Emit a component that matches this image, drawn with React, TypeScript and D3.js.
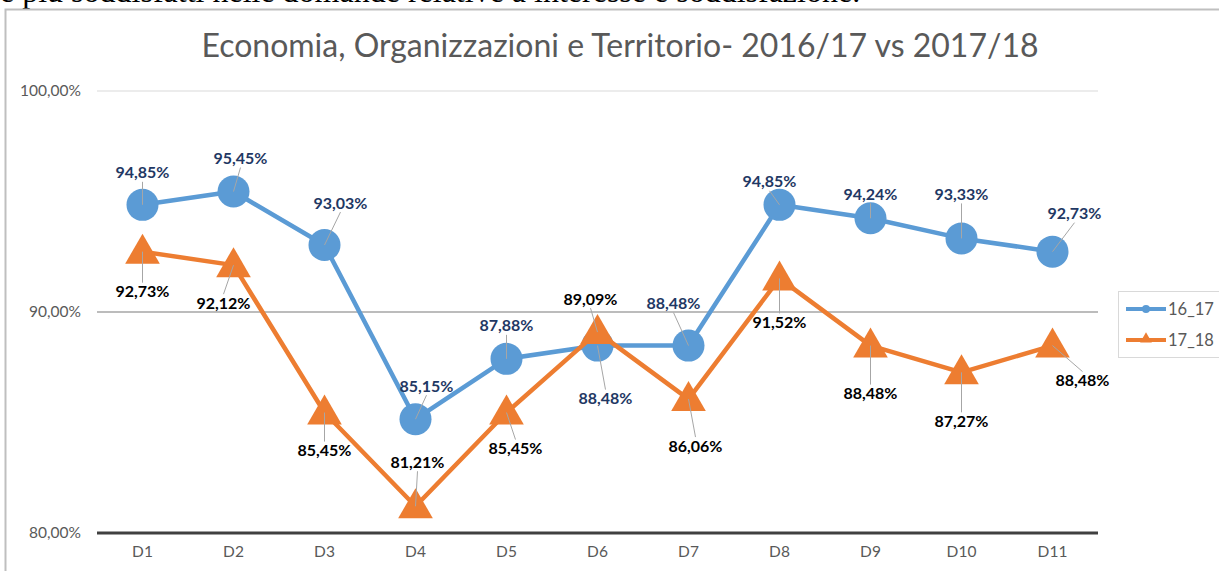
import * as d3 from 'd3';

const categories = ['D1', 'D2', 'D3', 'D4', 'D5', 'D6', 'D7', 'D8', 'D9', 'D10', 'D11'];
const series1617 = [94.85, 95.45, 93.03, 85.15, 87.88, 88.48, 88.48, 94.85, 94.24, 93.33, 92.73];
const series1718 = [92.73, 92.12, 85.45, 81.21, 85.45, 89.09, 86.06, 91.52, 88.48, 87.27, 88.48];
const yTicks = [80, 90, 100];

// label offsets (px) from each point, as Excel placed them
const labelOffsets1617 = [
  [0, -32], [7, -33], [16, -42], [11, -33], [0, -33], [8, 53],
  [-15, -42], [-10, -23], [0, -24], [0, -44], [22, -38],
];
const labelOffsets1718 = [
  [0, 40], [-10, 38], [0, 38], [2, -44], [9, 36], [-7, -33],
  [7, 47], [0, 44], [0, 48], [0, 49], [30, 35],
];

const W = 1219;
const H = 571;
const FONT = 'Lato, "Open Sans", sans-serif';
const BLUE = '#5b9bd5';
const ORANGE = '#ed7d31';

const fmt = (v: number) => v.toFixed(2).replace('.', ',') + '%';

export default function App() {
  const x = d3.scaleBand<string>().domain(categories).range([97, 1098]);
  const y = d3.scaleLinear().domain([80, 100]).range([533, 91]);
  const cx = (c: string) => x(c)! + x.bandwidth() / 2;

  const line = d3
    .line<number>()
    .x((_, i) => cx(categories[i]))
    .y((d) => y(d));

  const tri = d3.symbol().type(d3.symbolTriangle).size(520);
  const triSmall = d3.symbol().type(d3.symbolTriangle).size(60);

  const leader = (px: number, py: number, lx: number, ly: number) => {
    // from label edge to point centre
    const edgeY = ly > py ? ly - 9 : ly + 9;
    return <line x1={lx} y1={edgeY} x2={px} y2={py} stroke="#a6a6a6" strokeWidth={1} />;
  };

  return (
    <svg width={W} height={H} style={{ position: 'absolute', left: 0, top: 0, background: '#fff' }}>
      <text x={0} y={2} fontFamily='"Liberation Serif", serif' fontSize={32} fill="#000">
        e più soddisfatti nelle domande relative a interesse e soddisfazione.
      </text>
      <rect x={5.5} y={9.5} width={W + 20} height={H + 20} fill="none" stroke="#bfbfbf" strokeWidth={2} />

      <text x={620} y={57} textAnchor="middle" fontFamily={FONT} fontSize={32} fill="#595959">
        Economia, Organizzazioni e Territorio- 2016/17 vs 2017/18
      </text>

      {yTicks.map((t) => (
        <g key={t}>
          <line
            x1={97}
            x2={1098}
            y1={y(t)}
            y2={y(t)}
            stroke={t === 80 ? '#404040' : t === 90 ? '#a6a6a6' : '#d9d9d9'}
            strokeWidth={t === 80 ? 3 : t === 90 ? 1.5 : 1}
          />
          <text x={81} y={y(t)} dy="0.35em" textAnchor="end" fontFamily={FONT} fontSize={15.5} fill="#595959">
            {fmt(t)}
          </text>
        </g>
      ))}

      {categories.map((c) => (
        <text key={c} x={cx(c)} y={552} dy="0.35em" textAnchor="middle" fontFamily={FONT} fontSize={15.5} fill="#595959">
          {c}
        </text>
      ))}

      {/* 16_17 */}
      <path d={line(series1617)!} fill="none" stroke={BLUE} strokeWidth={4.5} strokeLinejoin="round" />
      {series1617.map((v, i) => (
        <circle key={i} cx={cx(categories[i])} cy={y(v)} r={16} fill={BLUE} />
      ))}

      {/* 17_18 */}
      <path d={line(series1718)!} fill="none" stroke={ORANGE} strokeWidth={4.5} strokeLinejoin="round" />
      {series1718.map((v, i) => (
        <path key={i} d={tri()!} transform={`translate(${cx(categories[i])},${y(v) + 2})`} fill={ORANGE} />
      ))}

      {/* leader lines + labels */}
      {series1617.map((v, i) => {
        const px = cx(categories[i]);
        const py = y(v);
        const [dx, dy] = labelOffsets1617[i];
        return (
          <g key={'b' + i}>
            {leader(px, py, px + dx, py + dy)}
            <text x={px + dx} y={py + dy} dy="0.35em" textAnchor="middle" fontFamily={FONT} fontSize={16} fontWeight="bold" fill="#1f3864">
              {fmt(v)}
            </text>
          </g>
        );
      })}
      {series1718.map((v, i) => {
        const px = cx(categories[i]);
        const py = y(v);
        const [dx, dy] = labelOffsets1718[i];
        return (
          <g key={'o' + i}>
            {leader(px, py, px + dx, py + dy)}
            <text x={px + dx} y={py + dy} dy="0.35em" textAnchor="middle" fontFamily={FONT} fontSize={16} fontWeight="bold" fill="#000">
              {fmt(v)}
            </text>
          </g>
        );
      })}

      {/* legend */}
      <rect x={1118.5} y={291.5} width={110} height={66} fill="#fff" stroke="#d9d9d9" strokeWidth={1} />
      <line x1={1126} x2={1166} y1={309} y2={309} stroke={BLUE} strokeWidth={4} />
      <circle cx={1146} cy={309} r={4} fill={BLUE} />
      <text x={1168} y={309} dy="0.35em" fontFamily={FONT} fontSize={16.5} fill="#595959">16_17</text>
      <line x1={1126} x2={1166} y1={340} y2={340} stroke={ORANGE} strokeWidth={4} />
      <path d={triSmall()!} transform="translate(1146,339)" fill={ORANGE} />
      <text x={1168} y={340} dy="0.35em" fontFamily={FONT} fontSize={16.5} fill="#595959">17_18</text>
    </svg>
  );
}
